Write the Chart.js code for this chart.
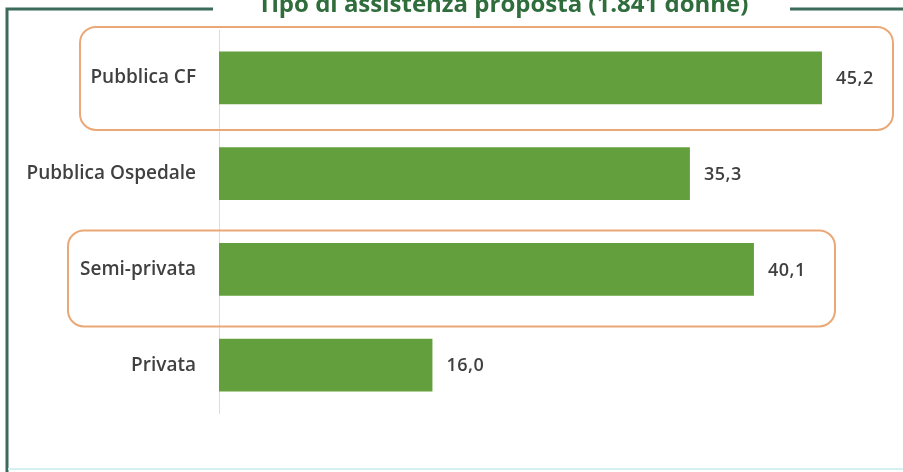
<!DOCTYPE html>
<html lang="it">
<head>
  <meta charset="UTF-8" />
  <title>Tipo di assistenza proposta</title>
  <script src="https://cdn.jsdelivr.net/npm/chart.js"></script>
  <style>
    html, body { margin: 0; padding: 0; background: #fff; }
    #wrap { position: relative; width: 903px; height: 472px; }
  </style>
</head>
<body>
  <div id="wrap"><canvas id="chart" width="903" height="472"></canvas></div>

  <script>
    const title = "Tipo di assistenza proposta (1.841 donne)";
    const categories = ["Pubblica CF", "Pubblica Ospedale", "Semi-privata", "Privata"];
    const values = [45.2, 35.3, 40.1, 16.0];
    // categories wrapped in an orange rounded box
    const highlighted = ["Pubblica CF", "Semi-privata"];

    const fmt = v => v.toFixed(1).replace(".", ",");

    // outer frame with the title sitting on the top edge
    const framePlugin = {
      id: "frame",
      beforeDraw(chart) {
        const c = chart.ctx;
        c.save();
        c.fillStyle = "#fff";
        c.fillRect(0, 0, chart.width, chart.height);
        c.strokeStyle = "#3c6a5c";
        c.lineWidth = 3;
        c.beginPath();
        c.moveTo(213, 9);
        c.lineTo(7, 9);
        c.lineTo(7, 472);
        c.moveTo(790, 9);
        c.lineTo(903, 9);
        c.stroke();
        c.strokeStyle = "#d4f0f0";
        c.lineWidth = 2;
        c.beginPath();
        c.moveTo(8, 469);
        c.lineTo(903, 469);
        c.stroke();
        c.font = "bold 24px 'Open Sans'";
        c.fillStyle = "#2f6d3c";
        c.textAlign = "center";
        c.textBaseline = "alphabetic";
        c.fillText(title, 503, 12);
        c.restore();
      }
    };

    // orange rounded boxes and the value labels
    const notesPlugin = {
      id: "notes",
      afterDatasetsDraw(chart) {
        const c = chart.ctx;
        const y = chart.scales.y;
        const boxes = {
          "Pubblica CF": { left: 80, right: 893, up: 51, down: 52 },
          "Semi-privata": { left: 68, right: 835, up: 39, down: 57 }
        };
        c.save();
        c.strokeStyle = "#eba877";
        c.lineWidth = 2;
        highlighted.forEach(name => {
          const b = boxes[name];
          const cy = y.getPixelForValue(categories.indexOf(name));
          c.beginPath();
          c.roundRect(b.left, cy - b.up, b.right - b.left, b.up + b.down, 16);
          c.stroke();
        });
        const meta = chart.getDatasetMeta(0);
        c.font = "600 18px 'Open Sans'";
        c.fillStyle = "#3f3f3f";
        c.textAlign = "left";
        c.textBaseline = "middle";
        c.letterSpacing = "0.5px";
        meta.data.forEach((bar, i) => {
          c.fillText(fmt(values[i]), bar.x + 14, bar.y + 1);
        });
        c.restore();
      }
    };

    new Chart(document.getElementById("chart"), {
      type: "bar",
      data: {
        labels: categories,
        datasets: [{
          data: values,
          backgroundColor: "#63a03d",
          categoryPercentage: 1,
          barPercentage: 0.55
        }]
      },
      options: {
        indexAxis: "y",
        responsive: false,
        animation: false,
        layout: { padding: { left: 0, right: 17, top: 30, bottom: 59 } },
        plugins: { legend: { display: false }, tooltip: { enabled: false } },
        scales: {
          x: { display: false, min: 0, max: 50 },
          y: {
            grid: { display: false },
            border: { display: true, color: "#dcdcdc", width: 1 },
            ticks: {
              padding: 15,
              color: "#404040",
              font: { family: "'Open Sans'", size: 19, weight: "600" }
            },
            afterFit(scale) { scale.width = 219; }
          }
        }
      },
      plugins: [framePlugin, notesPlugin]
    });
  </script>
</body>
</html>
